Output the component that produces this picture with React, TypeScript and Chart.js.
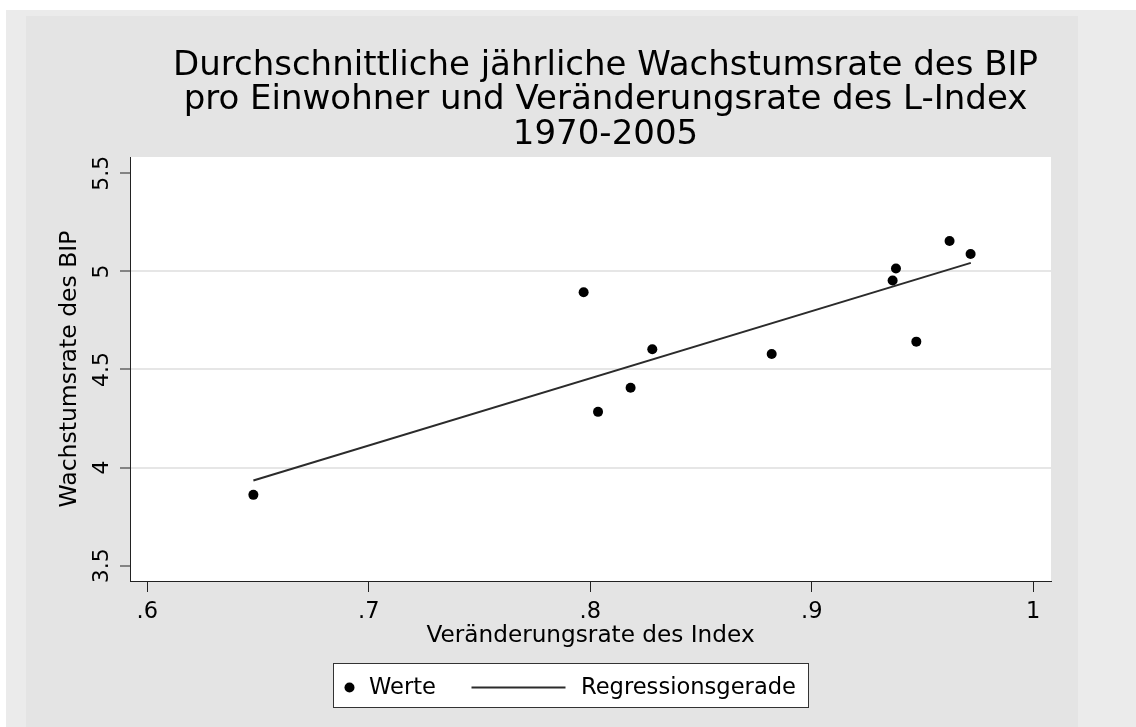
import React, { useEffect, useRef } from 'react';
import { Chart, registerables } from 'chart.js';

Chart.register(...registerables);

const titleLines = [
  'Durchschnittliche jährliche Wachstumsrate des BIP',
  'pro Einwohner und Veränderungsrate des L-Index',
  '1970-2005',
];
const xAxisTitle = 'Veränderungsrate des Index';
const yAxisTitle = 'Wachstumsrate des BIP';
const xTickValues = [0.6, 0.7, 0.8, 0.9, 1.0];
const xTickLabels = ['.6', '.7', '.8', '.9', '1'];
const yTickValues = [3.5, 4, 4.5, 5, 5.5];
const yTickLabels = ['3.5', '4', '4.5', '5', '5.5'];
const yGridValues = [4, 4.5, 5];
const xRange = [0.5922, 1.008];
const yRange = [3.422, 5.583];
const indexValues = [0.6479, 0.797, 0.8035, 0.8182, 0.828, 0.8819, 0.9365, 0.938, 0.9472, 0.9622, 0.9717];
const growthValues = [3.861, 4.894, 4.284, 4.407, 4.603, 4.579, 4.954, 5.015, 4.642, 5.155, 5.089];
const regressionX = [0.6479, 0.9718];
const regressionY = [3.934, 5.0435];
const seriesLabels = ['Werte', 'Regressionsgerade'];

const FONT = '"DejaVu Sans", sans-serif';

export default function App() {
  const ref = useRef<HTMLCanvasElement>(null);

  useEffect(() => {
    document.body.style.margin = '0';
    const canvas = ref.current;
    if (!canvas) return;

    const bgPlugin = {
      id: 'bgPanels',
      beforeDraw(chart: any) {
        const { ctx, chartArea } = chart;
        ctx.save();
        ctx.fillStyle = '#ffffff';
        ctx.fillRect(0, 0, chart.width, chart.height);
        ctx.fillStyle = '#ebebeb';
        ctx.fillRect(6, 10, chart.width - 6, chart.height - 10);
        ctx.fillStyle = '#e4e4e4';
        ctx.fillRect(26, 16, 1078 - 26, chart.height - 16);
        ctx.fillStyle = '#ffffff';
        ctx.fillRect(chartArea.left, chartArea.top, chartArea.right - chartArea.left, chartArea.bottom - chartArea.top);
        ctx.restore();
      },
    };

    const titlePlugin = {
      id: 'stataTitle',
      afterDraw(chart: any) {
        const { ctx } = chart;
        ctx.save();
        ctx.fillStyle = '#000';
        ctx.font = `34px ${FONT}`;
        ctx.textAlign = 'center';
        ctx.textBaseline = 'alphabetic';
        const baselines = [75, 109, 144];
        titleLines.forEach((t, i) => ctx.fillText(t, 605.5, baselines[i]));
        ctx.restore();
      },
    };

    const legendPlugin = {
      id: 'stataLegend',
      afterDraw(chart: any) {
        const { ctx } = chart;
        const ds0 = chart.data.datasets[0];
        const ds1 = chart.data.datasets[1];
        ctx.save();
        const bx = 333, by = 663, bw = 476, bh = 45;
        ctx.fillStyle = '#ffffff';
        ctx.fillRect(bx, by, bw, bh);
        ctx.strokeStyle = '#333';
        ctx.lineWidth = 1;
        ctx.strokeRect(bx + 0.5, by + 0.5, bw - 1, bh - 1);
        const cy = 687.5;
        ctx.fillStyle = ds0.backgroundColor;
        ctx.beginPath();
        ctx.arc(349.5, cy, 5, 0, Math.PI * 2);
        ctx.fill();
        ctx.strokeStyle = ds1.borderColor;
        ctx.lineWidth = ds1.borderWidth;
        ctx.beginPath();
        ctx.moveTo(471.5, cy);
        ctx.lineTo(565.5, cy);
        ctx.stroke();
        ctx.fillStyle = '#000';
        ctx.font = `22.6px ${FONT}`;
        ctx.textAlign = 'left';
        ctx.textBaseline = 'middle';
        ctx.fillText(ds0.label, 369, cy + 1);
        ctx.fillText(ds1.label, 581, cy + 1);
        ctx.restore();
      },
    };

    const points = indexValues.map((x, i) => ({ x, y: growthValues[i] }));
    const regression = regressionX.map((x, i) => ({ x, y: regressionY[i] }));

    const chart = new Chart(canvas, {
      type: 'scatter',
      data: {
        datasets: [
          {
            label: seriesLabels[0],
            data: points,
            backgroundColor: '#000000',
            borderColor: '#000000',
            pointRadius: 5,
            pointHoverRadius: 5,
            pointBorderWidth: 0,
            showLine: false,
          },
          {
            label: seriesLabels[1],
            data: regression,
            showLine: true,
            borderColor: '#2b2b2b',
            backgroundColor: '#2b2b2b',
            borderWidth: 2,
            pointRadius: 0,
            pointHoverRadius: 0,
            fill: false,
          },
        ],
      },
      options: {
        animation: false,
        responsive: false,
        events: [],
        font: { family: FONT },
        layout: { padding: { left: 40, right: 85, top: 157, bottom: 66 } },
        plugins: {
          legend: { display: false },
          title: { display: false },
          tooltip: { enabled: false },
        },
        scales: {
          x: {
            type: 'linear',
            min: xRange[0],
            max: xRange[1],
            bounds: 'data',
            afterBuildTicks: (s: any) => {
              s.ticks = xTickValues.map((v) => ({ value: v }));
            },
            afterFit: (s: any) => {
              s.height = 80;
            },
            ticks: {
              callback: (_v: any, i: number) => xTickLabels[i],
              font: { family: FONT, size: 22.5 },
              color: '#000',
              padding: 7,
              maxRotation: 0,
              autoSkip: false,
            },
            grid: {
              drawOnChartArea: false,
              tickLength: 11,
              tickColor: '#222',
              tickWidth: 1,
            },
            border: { color: '#222', width: 1 },
            title: {
              display: true,
              text: xAxisTitle,
              font: { family: FONT, size: 23.2 },
              color: '#000',
              padding: { top: 0, bottom: 11 },
            },
          },
          y: {
            type: 'linear',
            min: yRange[0],
            max: yRange[1],
            bounds: 'data',
            afterBuildTicks: (s: any) => {
              s.ticks = yTickValues.map((v) => ({ value: v }));
            },
            afterFit: (s: any) => {
              s.width = 90;
            },
            ticks: {
              callback: (_v: any, i: number) => yTickLabels[i],
              font: { family: FONT, size: 22 },
              color: '#000',
              minRotation: 90,
              maxRotation: 90,
              crossAlign: 'center',
              padding: 0,
              autoSkip: false,
            },
            grid: {
              color: (c: any) => (c.tick && yGridValues.includes(c.tick.value) ? '#e6e6e6' : 'rgba(0,0,0,0)'),
              lineWidth: 2,
              tickLength: 10,
              tickColor: '#222',
              tickWidth: 1,
            },
            border: { color: '#222', width: 1 },
            title: {
              display: true,
              text: yAxisTitle,
              font: { family: FONT, size: 23.5 },
              color: '#000',
              padding: { top: 16, bottom: 0 },
            },
          },
        },
      },
      plugins: [bgPlugin, titlePlugin, legendPlugin],
    } as any);

    return () => chart.destroy();
  }, []);

  return <canvas ref={ref} width={1136} height={727} style={{ display: 'block' }} />;
}
